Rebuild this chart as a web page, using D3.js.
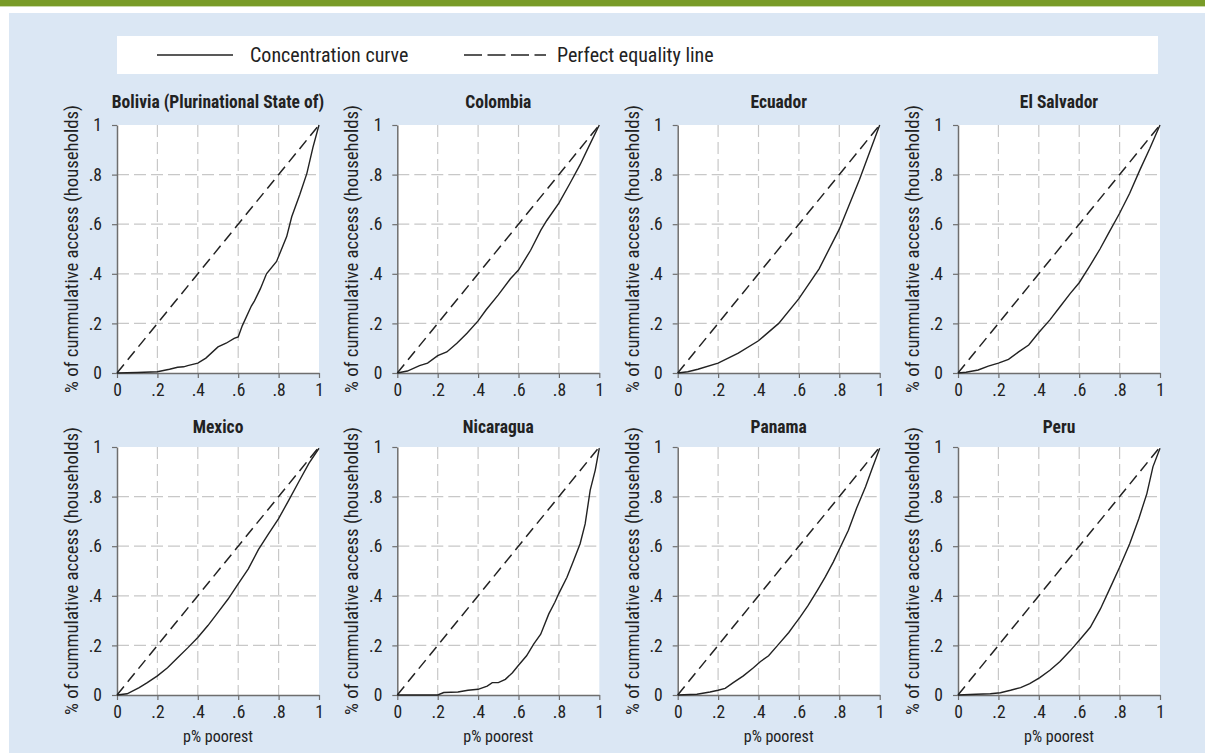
<!DOCTYPE html>
<meta charset="utf-8">
<head>
<style>
  body { margin: 0; background: #fff; }
  text { font-family: "Liberation Sans Narrow", "Roboto Condensed", "DejaVu Sans Condensed", sans-serif; fill: #222; }
</style>
</head>
<body>
<div id="my_dataviz"></div>
<script src="https://d3js.org/d3.v7.min.js"></script>
<script>
// countries in panel order
const countries = ["Bolivia (Plurinational State of)", "Colombia", "Ecuador", "El Salvador",
                   "Mexico", "Nicaragua", "Panama", "Peru"];

// concentration curves: [p% poorest, cumulative access]
const bolivia = [[0,0],[0.1,0.002],[0.2,0.005],[0.26,0.015],[0.3,0.023],[0.33,0.025],[0.35,0.03],[0.4,0.04],[0.44,0.06],[0.5,0.105],[0.54,0.12],[0.58,0.14],[0.6,0.145],[0.62,0.19],[0.665,0.27],[0.68,0.29],[0.71,0.34],[0.74,0.4],[0.79,0.45],[0.84,0.55],[0.865,0.63],[0.905,0.72],[0.94,0.805],[0.97,0.91],[1,1]];
const colombia = [[0,0],[0.05,0.008],[0.11,0.03],[0.15,0.04],[0.2,0.07],[0.245,0.085],[0.295,0.12],[0.345,0.16],[0.4,0.21],[0.44,0.255],[0.5,0.315],[0.56,0.38],[0.6,0.415],[0.66,0.495],[0.71,0.575],[0.74,0.615],[0.8,0.685],[0.855,0.765],[0.905,0.84],[0.955,0.925],[1,1]];
const ecuador = [[0,0],[0.05,0.005],[0.1,0.015],[0.2,0.04],[0.3,0.08],[0.4,0.13],[0.5,0.2],[0.6,0.3],[0.7,0.42],[0.8,0.58],[0.9,0.78],[1,1]];
const elSalvador = [[0,0],[0.04,0.003],[0.1,0.012],[0.15,0.028],[0.2,0.04],[0.25,0.055],[0.3,0.085],[0.35,0.113],[0.4,0.163],[0.455,0.214],[0.505,0.267],[0.555,0.32],[0.6,0.364],[0.655,0.435],[0.703,0.5],[0.745,0.563],[0.8,0.644],[0.85,0.725],[0.9,0.818],[0.95,0.906],[1,1]];
const mexico = [[0,0],[0.05,0.005],[0.11,0.03],[0.15,0.05],[0.2,0.077],[0.25,0.11],[0.3,0.15],[0.35,0.19],[0.4,0.232],[0.45,0.28],[0.5,0.333],[0.55,0.387],[0.6,0.448],[0.65,0.509],[0.7,0.586],[0.75,0.65],[0.8,0.711],[0.85,0.785],[0.9,0.86],[0.95,0.934],[1,0.995]];
const nicaragua = [[0,0],[0.2,0],[0.23,0.01],[0.3,0.012],[0.35,0.019],[0.4,0.023],[0.445,0.036],[0.47,0.05],[0.5,0.05],[0.535,0.063],[0.57,0.09],[0.6,0.12],[0.64,0.158],[0.675,0.205],[0.71,0.245],[0.75,0.327],[0.78,0.374],[0.8,0.41],[0.84,0.475],[0.87,0.536],[0.905,0.61],[0.93,0.69],[0.955,0.826],[0.98,0.907],[1,0.995]];
const panama = [[0,0],[0.095,0.003],[0.16,0.012],[0.2,0.019],[0.235,0.027],[0.275,0.05],[0.325,0.077],[0.375,0.11],[0.41,0.135],[0.45,0.158],[0.5,0.205],[0.55,0.252],[0.58,0.286],[0.605,0.313],[0.645,0.36],[0.69,0.42],[0.73,0.475],[0.77,0.536],[0.805,0.596],[0.845,0.664],[0.885,0.752],[0.93,0.84],[0.96,0.907],[1,0.995]];
const peru = [[0,0],[0.09,0.003],[0.16,0.005],[0.21,0.009],[0.26,0.019],[0.31,0.03],[0.355,0.046],[0.405,0.07],[0.455,0.1],[0.505,0.135],[0.555,0.178],[0.605,0.225],[0.655,0.273],[0.705,0.347],[0.755,0.435],[0.8,0.515],[0.85,0.61],[0.895,0.711],[0.935,0.812],[0.965,0.92],[1,0.995]];
const curves = [bolivia, colombia, ecuador, elSalvador, mexico, nicaragua, panama, peru];

// perfect equality line
const equality = [[0,0],[1,1]];
const ticks = [0, 0.2, 0.4, 0.6, 0.8, 1];

const W = 1205, H = 753;
const svg = d3.select("#my_dataviz").append("svg")
  .attr("width", W).attr("height", H);

// frame: green bar on top, blue panel
svg.append("rect").attr("x", 0).attr("y", 0).attr("width", W).attr("height", 6).attr("fill", "#789b28");
svg.append("rect").attr("x", 0).attr("y", 6).attr("width", W).attr("height", 1).attr("fill", "#c9d9a8");
svg.append("rect").attr("x", 9).attr("y", 13).attr("width", W - 9).attr("height", H - 13).attr("fill", "#dbe7f4");

// legend
const leg = svg.append("g");
leg.append("rect").attr("x", 117).attr("y", 36).attr("width", 1041).attr("height", 38).attr("fill", "#fff");
leg.append("line").attr("x1", 157).attr("x2", 233).attr("y1", 55).attr("y2", 55)
  .attr("stroke", "#222").attr("stroke-width", 1.3);
leg.append("text").attr("x", 250).attr("y", 62).style("font-size", "20px").attr("fill", "#333").text("Concentration curve");
leg.append("line").attr("x1", 464).attr("x2", 546).attr("y1", 55).attr("y2", 55)
  .attr("stroke", "#222").attr("stroke-width", 1.3).attr("stroke-dasharray", "18,5.5");
leg.append("text").attr("x", 557).attr("y", 62).style("font-size", "20px").attr("fill", "#333").text("Perfect equality line");

// panel layout
const colX = [117, 397.3, 677.7, 958];
const rowY = [125, 447];
const pw = 202, ph = 248;

const fmt = d => d === 0 ? "0" : d === 1 ? "1" : d3.format(".1f")(d).replace("0.", ".");

countries.forEach(function(name, i) {
  const row = Math.floor(i / 4), col = i % 4;
  const g = svg.append("g").attr("transform", `translate(${colX[col]}, ${rowY[row]})`);

  const x = d3.scaleLinear().domain([0, 1]).range([0, pw]);
  const y = d3.scaleLinear().domain([0, 1]).range([ph, 0]);

  g.append("rect").attr("width", pw).attr("height", ph).attr("fill", "#fff");

  // grid
  g.append("g").selectAll("line").data(ticks.slice(1, 5)).join("line")
    .attr("x1", d => x(d)).attr("x2", d => x(d)).attr("y1", 0).attr("y2", ph)
    .attr("stroke", "#c8c8c8").attr("stroke-width", 1.2).attr("stroke-dasharray", "12,5");
  g.append("g").selectAll("line").data(ticks.slice(1, 5)).join("line")
    .attr("y1", d => y(d)).attr("y2", d => y(d)).attr("x1", 0).attr("x2", pw)
    .attr("stroke", "#c8c8c8").attr("stroke-width", 1.2).attr("stroke-dasharray", "12,5");

  // axes
  const xa = g.append("g").attr("transform", `translate(0, ${ph})`)
    .call(d3.axisBottom(x).tickValues(ticks).tickFormat(fmt).tickSize(5).tickPadding(6).tickSizeOuter(0));
  const ya = g.append("g")
    .call(d3.axisLeft(y).tickValues(ticks).tickFormat(fmt).tickSize(5).tickPadding(10).tickSizeOuter(0));
  [xa, ya].forEach(a => {
    a.select(".domain").attr("stroke", "#6e6e6e").attr("stroke-width", 1.5);
    a.selectAll(".tick line").attr("stroke", "#6e6e6e").attr("stroke-width", 1.2);
    a.selectAll(".tick text").style("font-size", "17.5px").attr("fill", "#333")
      .style("font-family", "\"Liberation Sans Narrow\", \"Roboto Condensed\", \"DejaVu Sans Condensed\", sans-serif");
  });

  // lines
  const line = d3.line().x(d => x(d[0])).y(d => y(d[1]));
  g.append("path").datum(equality).attr("d", line).attr("fill", "none")
    .attr("stroke", "#222").attr("stroke-width", 1.5).attr("stroke-dasharray", "11,6");
  g.append("path").datum(curves[i]).attr("d", line).attr("fill", "none")
    .attr("stroke", "#222").attr("stroke-width", 1.4);

  // title
  g.append("text").attr("x", pw / 2).attr("y", row === 0 ? -17 : -14).attr("text-anchor", "middle")
    .style("font-size", "17.5px").style("font-weight", "bold").text(name);

  // y axis title
  g.append("text").attr("transform", `translate(-39, ${ph / 2}) rotate(-90)`)
    .attr("text-anchor", "middle").style("font-size", "18.7px").attr("fill", "#333")
    .text("% of cummulative access (households)");

  // x axis title on bottom row
  if (row === 1) {
    g.append("text").attr("x", pw / 2).attr("y", ph + 47).attr("text-anchor", "middle")
      .style("font-size", "16px").attr("fill", "#333").text("p% poorest");
  }
});
</script>
</body>
